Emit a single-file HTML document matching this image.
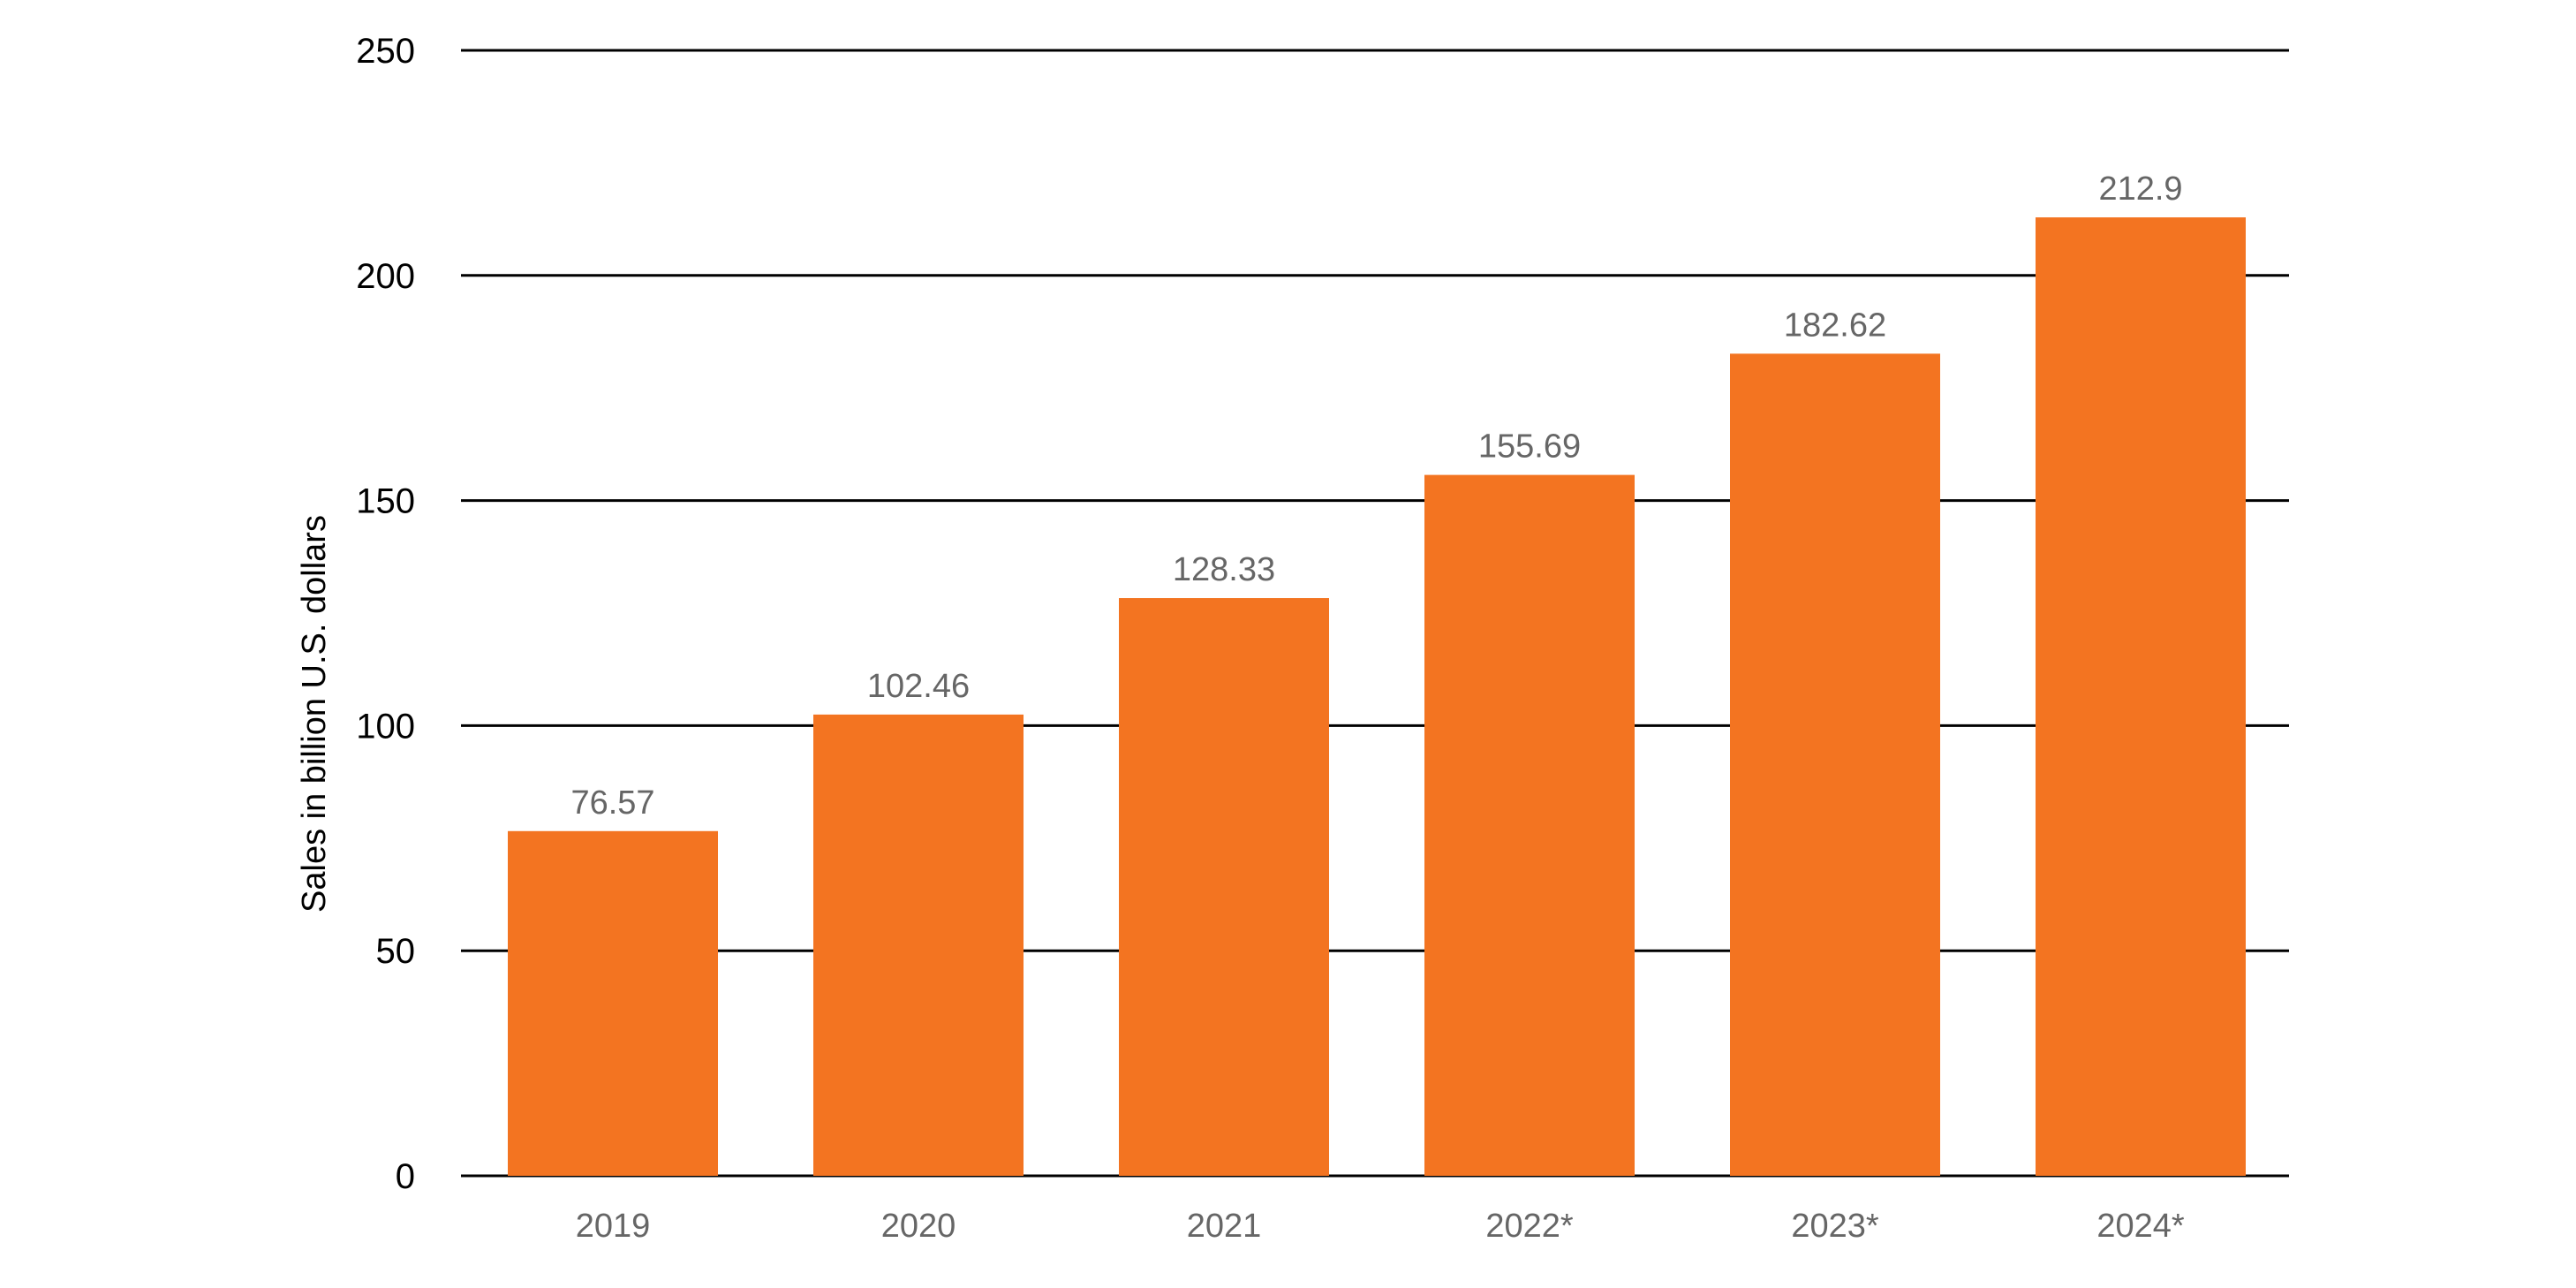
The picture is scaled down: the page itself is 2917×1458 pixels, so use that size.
<!DOCTYPE html>
<html><head><meta charset="utf-8"><style>
html,body{margin:0;padding:0;background:#fff;}
svg{display:block;font-family:"Liberation Sans",sans-serif;}
</style></head><body>
<svg id="chart" width="2917" height="1458" viewBox="0 0 2917 1458">
<g id="grid"></g>
<g id="bars"></g>
<g id="labels"></g>
<text transform="translate(368,808) rotate(-90)" text-anchor="middle" font-size="38" fill="#000">Sales in billion U.S. dollars</text>
</svg>
<script>
const categories = ["2019","2020","2021","2022*","2023*","2024*"];
const values = [76.57,102.46,128.33,155.69,182.62,212.9];
const valueLabels = ["76.57","102.46","128.33","155.69","182.62","212.9"];
const yTicks = [0,50,100,150,200,250];

const NS="http://www.w3.org/2000/svg";
const plotL=522, plotR=2592, yTop=57, yBot=1331, yMax=250;
const firstC=694, step=346, barW=238;
function y(v){return yBot-(v/yMax)*(yBot-yTop);}
function x(i){return firstC+i*step;}
function mk(tag,attrs,parent){const e=document.createElementNS(NS,tag);for(const k in attrs)e.setAttribute(k,attrs[k]);parent.appendChild(e);return e;}
const grid=document.getElementById('grid'),bars=document.getElementById('bars'),labels=document.getElementById('labels');
yTicks.forEach(t=>{
  const l=mk('line',{x1:plotL,x2:plotR,y1:y(t),y2:y(t),stroke:'#000','stroke-width':3},grid);
  
  
  const tx=mk('text',{x:470,y:y(t)+14,'text-anchor':'end','font-size':40,fill:'#000'},labels);
  tx.textContent=t;
  
  
});
values.forEach((v,i)=>{
  const r=mk('rect',{x:x(i)-barW/2,y:y(v),width:barW,height:yBot-y(v),fill:'#F37421'},bars);
  
  
  const vl=mk('text',{x:x(i),y:y(v)-20,'text-anchor':'middle','font-size':38,fill:'#666'},labels);
  vl.textContent=valueLabels[i];
  
  
  const cl=mk('text',{x:x(i),y:1400,'text-anchor':'middle','font-size':38,fill:'#666'},labels);
  cl.textContent=categories[i];
  
  
});
</script>
</body></html>
